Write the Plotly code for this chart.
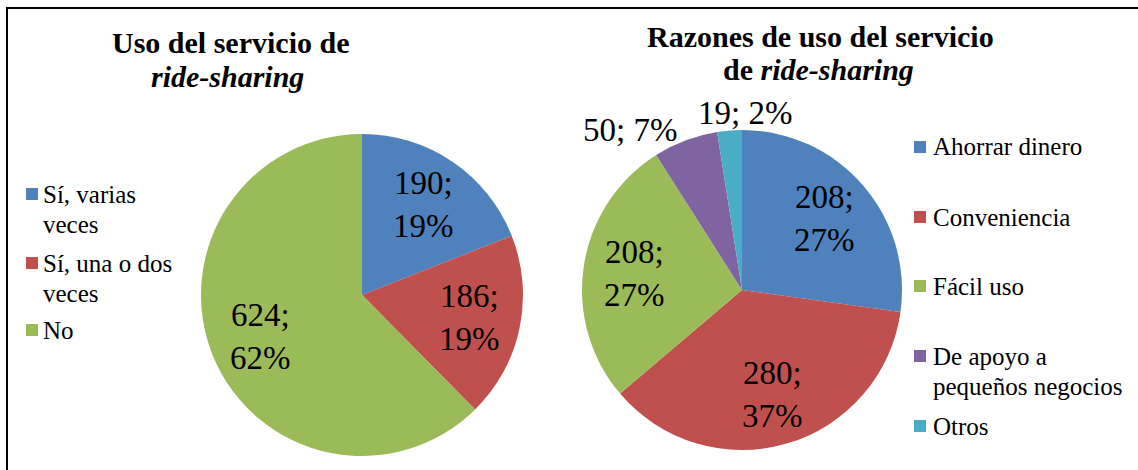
import numpy as np
import plotly.graph_objects as go

# ---- data ----
use_labels = ["Sí, varias veces", "Sí, una o dos veces", "No"]
use_legend_text = ["Sí, varias<br>veces", "Sí, una o dos<br>veces", "No"]
use_values = [190, 186, 624]
use_colors = ["#4F81BD", "#C0504D", "#9BBB59"]

reason_labels = ["Ahorrar dinero", "Conveniencia", "Fácil uso",
                 "De apoyo a pequeños negocios", "Otros"]
reason_legend_text = ["Ahorrar dinero", "Conveniencia", "Fácil uso",
                      "De apoyo a<br>pequeños negocios", "Otros"]
reason_values = [208, 280, 208, 50, 19]
reason_colors = ["#4F81BD", "#C0504D", "#9BBB59", "#8064A2", "#4BACC6"]

title_left = ["Uso del servicio de", "<i>ride-sharing</i>"]
title_right = ["Razones de uso del servicio", "de <i>ride-sharing</i>"]

W, H = 1138, 470
FONT = "Liberation Serif"


def px(x):
    return x / W


def py(y):
    return 1 - y / H


def dom(cx, cy, r):
    return dict(x=[px(cx - r), px(cx + r)], y=[py(cy + r), py(cy - r)])


annotations = []
shapes = []


def add_pie(labels, values, colors, cx, cy, r, outside_offsets):
    fig.add_trace(go.Pie(
        labels=labels, values=values, sort=False, direction="clockwise",
        rotation=0, marker=dict(colors=colors, line=dict(width=0)),
        textinfo="none", domain=dom(cx, cy, r), showlegend=False,
        hoverinfo="label+value+percent",
    ))
    vals = np.asarray(values, dtype=float)
    total = vals.sum()
    mids = (np.cumsum(vals) - vals / 2) / total * 2 * np.pi
    for i, (v, a) in enumerate(zip(vals, mids)):
        pct = round(100 * v / total)
        off = outside_offsets.get(i)
        if off is None:
            f = 0.68
            x = cx + f * r * np.sin(a)
            y = cy - f * r * np.cos(a)
            txt = f"{int(v)};<br>{pct}%"
        else:
            x = cx + r * np.sin(a) + off[0]
            y = cy - r * np.cos(a) + off[1]
            txt = f"{int(v)}; {pct}%"
        annotations.append(dict(text=txt, x=px(x), y=py(y), xref="paper", yref="paper",
                                xanchor="center", yanchor="middle", showarrow=False,
                                font=dict(family=FONT, size=33, color="black")))


fig = go.Figure()
add_pie(use_labels, use_values, use_colors, 362, 295, 161, {})
add_pie(reason_labels, reason_values, reason_colors, 742, 290, 160, {3: (-55, -10), 4: (15, -17)})

# titles
for txt, (cx, cy) in zip(title_left, [(230, 43), (227, 76)]):
    annotations.append(dict(text=f"<b>{txt}</b>", x=px(cx), y=py(cy), xref="paper", yref="paper",
                            xanchor="center", yanchor="middle", showarrow=False,
                            font=dict(family=FONT, size=30, color="black")))
for txt, (cx, cy) in zip(title_right, [(820, 37), (818, 69)]):
    annotations.append(dict(text=f"<b>{txt}</b>", x=px(cx), y=py(cy), xref="paper", yref="paper",
                            xanchor="center", yanchor="middle", showarrow=False,
                            font=dict(family=FONT, size=30, color="black")))

# legends
left_leg_y = [194, 263, 330]
right_leg_y = [147, 217, 286, 356, 426]


def add_legend(texts, colors, ys, sx, tx):
    for t, c, y in zip(texts, colors, ys):
        shapes.append(dict(type="rect", xref="paper", yref="paper",
                           x0=px(sx), x1=px(sx + 12), y0=py(y + 6), y1=py(y - 6),
                           fillcolor=c, line=dict(width=0)))
        for k, line in enumerate(t.split("<br>")):
            annotations.append(dict(text=line, x=px(tx), y=py(y + 30 * k), xref="paper", yref="paper",
                                    xanchor="left", yanchor="middle", align="left", showarrow=False,
                                    font=dict(family=FONT, size=25, color="black")))


add_legend(use_legend_text, use_colors, left_leg_y, 26, 41)
add_legend(reason_legend_text, reason_colors, right_leg_y, 914, 931)

# frame (left and top edges visible)
shapes.append(dict(type="line", xref="paper", yref="paper", x0=px(7), x1=px(7), y0=py(8), y1=-0.1,
                   line=dict(color="black", width=2)))
shapes.append(dict(type="line", xref="paper", yref="paper", x0=px(6), x1=1.1, y0=py(8), y1=py(8),
                   line=dict(color="black", width=2)))

fig.update_layout(
    width=W, height=H, margin=dict(l=0, r=0, t=0, b=0),
    paper_bgcolor="white", plot_bgcolor="white",
    annotations=annotations, shapes=shapes, showlegend=False,
    font=dict(family=FONT),
)

fig.write_html("out.html", config={"displayModeBar": False},
               post_script="document.body.style.margin='0';")
